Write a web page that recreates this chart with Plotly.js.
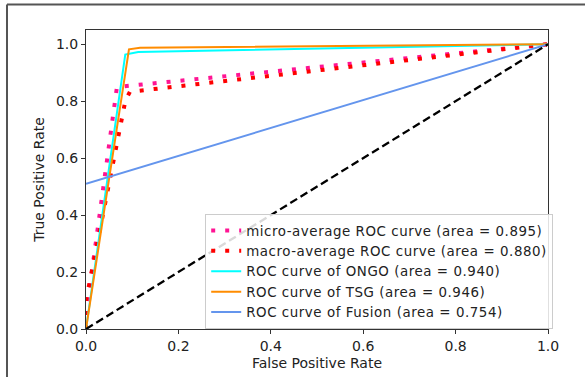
<!DOCTYPE html>
<html>
<head>
<meta charset="utf-8">
<script src="https://cdn.plot.ly/plotly-3.0.1.min.js"></script>
<style>
html,body{margin:0;padding:0;background:#fff;}
#chart{width:585px;height:377px;}
.legendtext{letter-spacing:0.55px;}
</style>
</head>
<body>
<div id="chart"></div>
<script>
// Data
const seriesNames = [
  "micro-average ROC curve (area = 0.895)",
  "macro-average ROC curve (area = 0.880)",
  "ROC curve of ONGO (area = 0.940)",
  "ROC curve of TSG (area = 0.946)",
  "ROC curve of Fusion (area = 0.754)"
];
const microFpr = [0, 0, 0.067, 1];
const microTpr = [0, 0.05, 0.85, 1];
const macroFpr = [0, 0, 0.085, 0.095, 1];
const macroTpr = [0, 0.10, 0.80, 0.833, 1];
const ongoFpr = [0, 0.085, 0.113, 1];
const ongoTpr = [0, 0.964, 0.973, 1];
const tsgFpr = [0, 0.093, 0.117, 1];
const tsgTpr = [0, 0.982, 0.988, 1];
const fusionFpr = [0, 1];
const fusionTpr = [0.51, 1];
const chanceX = [0, 1];
const chanceY = [0, 1];
const tickVals = [0, 0.2, 0.4, 0.6, 0.8, 1.0];
const tickText = ["0.0", "0.2", "0.4", "0.6", "0.8", "1.0"];

const FONT = "DejaVu Sans, sans-serif";
const FS = 14;
const traces = [
  {x: microFpr, y: microTpr, name: seriesNames[0], mode: "lines",
   line: {color: "#FF1493", width: 4, dash: "4px,10px"}},
  {x: macroFpr, y: macroTpr, name: seriesNames[1], mode: "lines",
   line: {color: "#FF0000", width: 4, dash: "4px,10px"}},
  {x: ongoFpr, y: ongoTpr, name: seriesNames[2], mode: "lines",
   line: {color: "#00FFFF", width: 2}},
  {x: tsgFpr, y: tsgTpr, name: seriesNames[3], mode: "lines",
   line: {color: "#FF8C00", width: 2}},
  {x: fusionFpr, y: fusionTpr, name: seriesNames[4], mode: "lines",
   line: {color: "#6495ED", width: 2}},
  {x: chanceX, y: chanceY, mode: "lines", showlegend: false,
   line: {color: "#000000", width: 2.3, dash: "8px,4px"}}
];

const layout = {
  width: 585, height: 377,
  margin: {l: 86, r: 37, t: 30, b: 48},
  paper_bgcolor: "#fff", plot_bgcolor: "#fff",
  font: {family: FONT, size: FS, color: "#222"},
  showlegend: true,
  legend: {
    x: 0.258, y: 0.384, xanchor: "left", yanchor: "top",
    bgcolor: "rgba(255,255,255,0.85)", bordercolor: "#cccccc", borderwidth: 1,
    font: {family: FONT, size: 13.4, color: "#222"}
  },
  xaxis: {
    range: [0, 1], tickvals: tickVals, ticktext: tickText,
    showgrid: false, zeroline: false,
    showline: true, mirror: true, linecolor: "#333", linewidth: 1,
    ticks: "outside", ticklen: 4, tickcolor: "#333",
    title: {text: "False Positive Rate", font: {family: FONT, size: FS, color: "#222"}, standoff: 5}
  },
  yaxis: {
    range: [0, 1.05], tickvals: tickVals, ticktext: tickText,
    showgrid: false, zeroline: false,
    showline: true, mirror: true, linecolor: "#333", linewidth: 1,
    ticks: "outside", ticklen: 4, tickcolor: "#333",
    title: {text: "True Positive Rate", font: {family: FONT, size: FS, color: "#222"}, standoff: 8}
  },
  shapes: [
    {type: "line", xref: "paper", yref: "paper", x0: -0.171, x1: 1.2, y0: 1.085, y1: 1.085,
     line: {color: "#555", width: 2}},
    {type: "line", xref: "paper", yref: "paper", x0: -0.171, x1: -0.171, y0: 1.085, y1: -0.2,
     line: {color: "#555", width: 2}}
  ]
};

Plotly.newPlot("chart", traces, layout, {displayModeBar: false, staticPlot: true});
</script>
</body>
</html>
